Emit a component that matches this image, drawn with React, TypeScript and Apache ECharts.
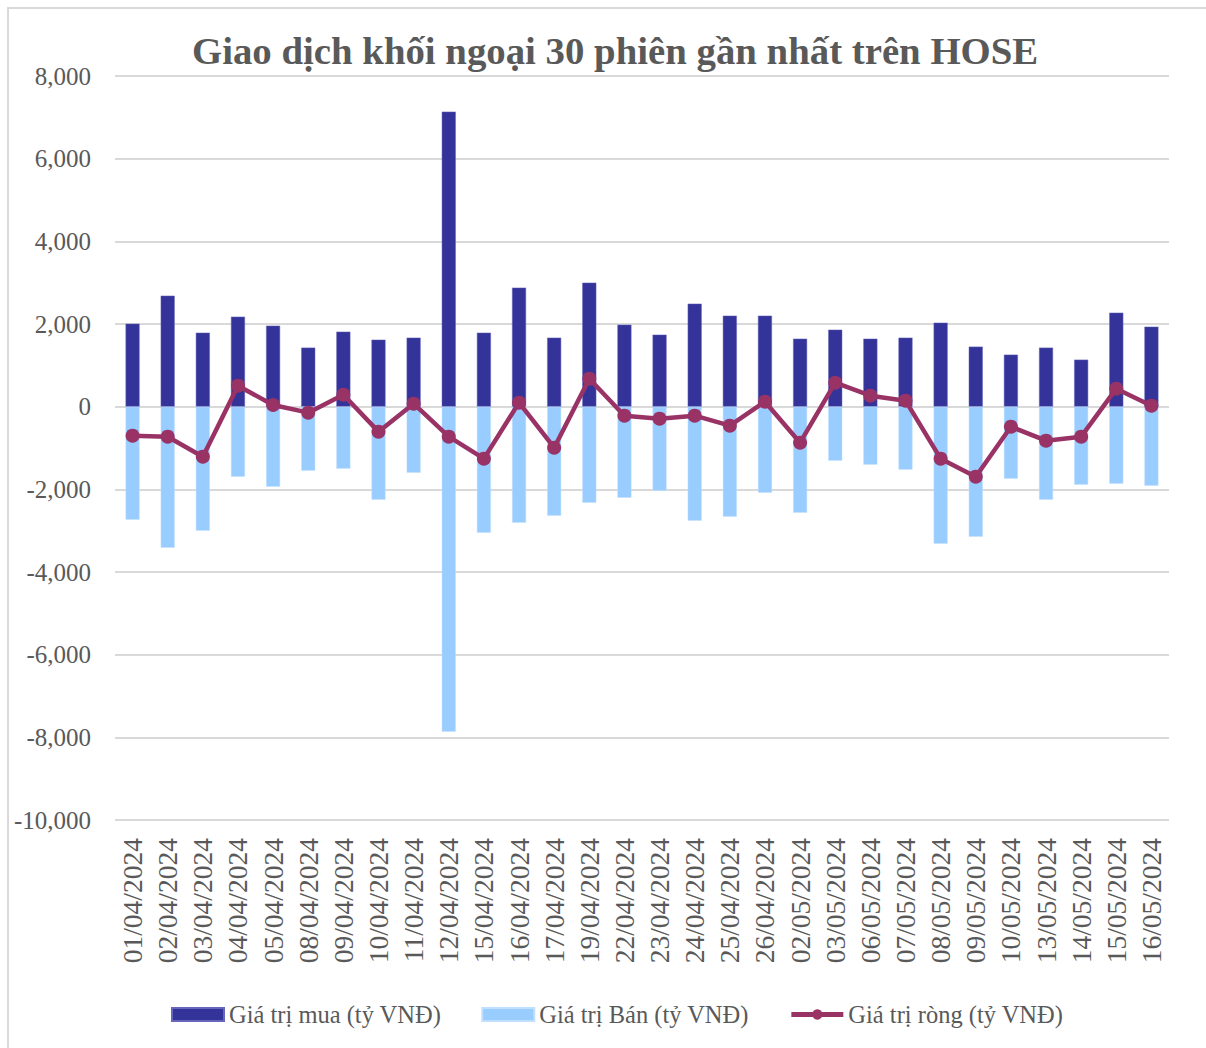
import React, { useEffect, useRef } from "react";
import * as echarts from "echarts";

const categories = [
  "01/04/2024", "02/04/2024", "03/04/2024", "04/04/2024", "05/04/2024",
  "08/04/2024", "09/04/2024", "10/04/2024", "11/04/2024", "12/04/2024",
  "15/04/2024", "16/04/2024", "17/04/2024", "19/04/2024", "22/04/2024",
  "23/04/2024", "24/04/2024", "25/04/2024", "26/04/2024", "02/05/2024",
  "03/05/2024", "06/05/2024", "07/05/2024", "08/05/2024", "09/05/2024",
  "10/05/2024", "13/05/2024", "14/05/2024", "15/05/2024", "16/05/2024",
];

const buyValues = [
  2008, 2686, 1790, 2178, 1960, 1428, 1815, 1621, 1670, 7138,
  1790, 2880, 1670, 3000, 1984, 1742, 2492, 2202, 2202, 1645,
  1863, 1645, 1670, 2032, 1452, 1258, 1428, 1137, 2274, 1936,
];

const sellValues = [
  -2734, -3412, -3000, -1694, -1936, -1548, -1500, -2250, -1597, -7863,
  -3049, -2807, -2637, -2323, -2202, -2032, -2758, -2661, -2081, -2565,
  -1307, -1403, -1524, -3315, -3145, -1742, -2250, -1887, -1863, -1911,
];

const netValues = [
  -702, -726, -1210, 508, 41, -145, 290, -605, 73, -726,
  -1258, 97, -992, 677, -218, -290, -218, -460, 121, -871,
  580, 266, 145, -1258, -1694, -484, -823, -726, 435, 24,
];

const seriesNames = ["Giá trị mua (tỷ VNĐ)", "Giá trị Bán (tỷ VNĐ)", "Giá trị ròng (tỷ VNĐ)"];
const titleText = "Giao dịch khối ngoại 30 phiên gần nhất trên HOSE";

const FONT = "'Liberation Serif', 'DejaVu Serif', serif";
const TEXT = "#595959";

export default function App() {
  const ref = useRef<HTMLDivElement>(null);
  useEffect(() => {
    if (!ref.current) return;
    const chart = echarts.init(ref.current, undefined, { renderer: "svg" });
    chart.setOption({
      animation: false,
      backgroundColor: "#ffffff",
      title: {
        text: titleText,
        left: 187,
        top: 26,
        textStyle: { fontFamily: FONT, fontSize: 38.8, fontWeight: "bold", color: TEXT },
      },
      graphic: [
        { type: "line", shape: { x1: 8, y1: 7, x2: 8, y2: 1048 }, style: { stroke: "#d9d9d9", lineWidth: 2 } },
        { type: "line", shape: { x1: 7, y1: 8, x2: 1206, y2: 8 }, style: { stroke: "#d9d9d9", lineWidth: 2 } },
      ],
      legend: {
        bottom: 16,
        left: 166,
        itemWidth: 52,
        itemHeight: 13,
        itemGap: 40,
        textStyle: { fontFamily: FONT, fontSize: 24.5, color: TEXT },
        data: [
          { name: seriesNames[0], icon: "rect" },
          { name: seriesNames[1], icon: "rect" },
          { name: seriesNames[2], lineStyle: { width: 5 } },
        ],
      },
      grid: { left: 115, right: 37, top: 76, bottom: 228, containLabel: false },
      xAxis: {
        type: "category",
        data: categories,
        axisLine: { show: false },
        axisTick: { show: false },
        axisLabel: {
          rotate: 90,
          interval: 0,
          margin: 18,
          fontFamily: FONT,
          fontSize: 27.5,
          color: TEXT,
        },
      },
      yAxis: {
        type: "value",
        min: -10000,
        max: 8000,
        interval: 2000,
        axisLine: { show: false },
        axisTick: { show: false },
        splitLine: { lineStyle: { color: "#d9d9d9", width: 2 } },
        axisLabel: {
          margin: 24,
          fontFamily: FONT,
          fontSize: 25,
          color: TEXT,
          formatter: (v: number) => v.toLocaleString("en-US"),
        },
      },
      series: [
        {
          name: seriesNames[0],
          type: "bar",
          data: buyValues,
          barWidth: 14,
          barGap: "-100%",
          itemStyle: { color: "#333399", borderColor: "#6666bb", borderWidth: 0.5 },
        },
        {
          name: seriesNames[1],
          type: "bar",
          data: sellValues,
          barWidth: 14,
          itemStyle: { color: "#99ccff", borderColor: "#c0e0ff", borderWidth: 0.5 },
        },
        {
          name: seriesNames[2],
          type: "line",
          data: netValues,
          symbol: "circle",
          symbolSize: 14,
          lineStyle: { color: "#993366", width: 4.5 },
          itemStyle: { color: "#993366" },
          z: 5,
        },
      ],
    });
    return () => chart.dispose();
  }, []);
  return (
    <div
      ref={ref}
      style={{ position: "absolute", left: 0, top: 0, width: 1206, height: 1048 }}
    />
  );
}
